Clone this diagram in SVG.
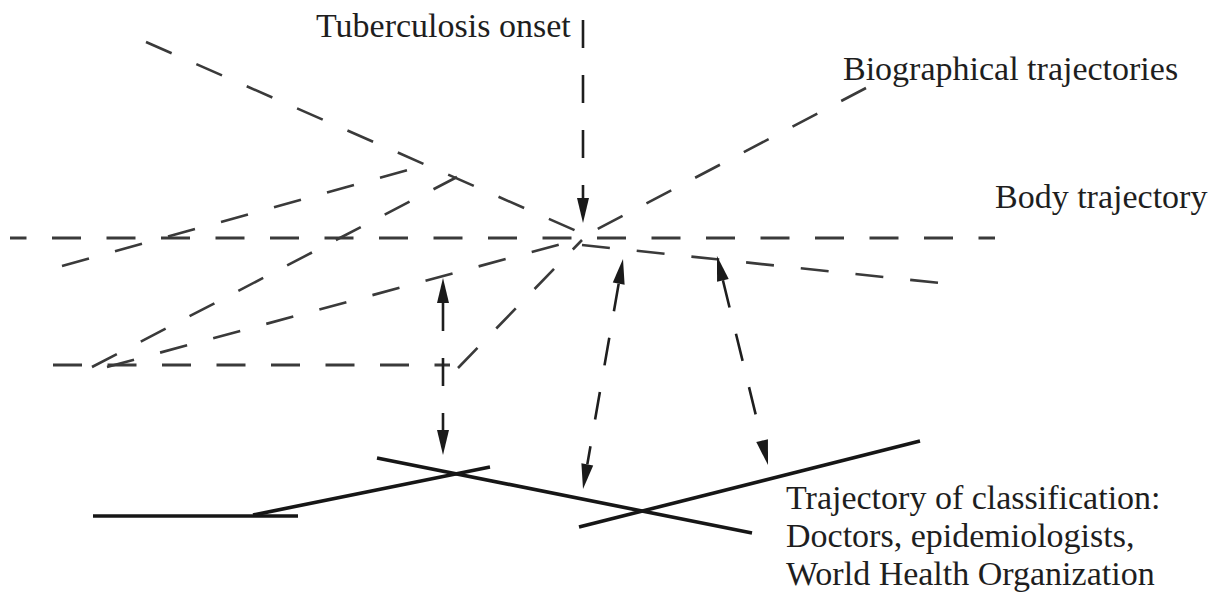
<svg xmlns="http://www.w3.org/2000/svg" width="1219" height="596" viewBox="0 0 1219 596">
  <style>
    .lbl { font-family: "Liberation Serif", "Times New Roman", serif; font-size: 34px; fill: #1e1e1e; }
    .dash { fill: none; stroke: #3a3a3a; stroke-width: 2.6; stroke-dasharray: 28 27; }
    .hdash { fill: none; stroke: #3a3a3a; stroke-width: 3; stroke-dasharray: 29 25.5; }
    .arr { fill: none; stroke: #1e1e1e; stroke-width: 2.6; stroke-dasharray: 28 27; }
    .solid { fill: none; stroke: #161616; stroke-width: 3.6; }
  </style>
  <defs>
    <marker id="ah" markerUnits="userSpaceOnUse" markerWidth="26" markerHeight="12" refX="0" refY="6" orient="auto-start-reverse" overflow="visible">
      <path d="M0,0 L25,6 L0,12 Z" fill="#1a1a1a"/>
    </marker>
  </defs>

  <g id="label-tuberculosis-onset">
    <text class="lbl" x="316" y="37">Tuberculosis onset</text>
  </g>
  <g id="label-biographical-trajectories">
    <text class="lbl" x="843" y="80">Biographical trajectories</text>
  </g>
  <g id="label-body-trajectory">
    <text class="lbl" x="995" y="208">Body trajectory</text>
  </g>
  <g id="label-classification">
    <text class="lbl" x="786" y="509">Trajectory of classification:</text>
    <text class="lbl" x="786" y="547">Doctors, epidemiologists,</text>
    <text class="lbl" x="786" y="585">World Health Organization</text>
  </g>

  <g id="body-trajectory">
    <line class="hdash" x1="10" y1="238" x2="995" y2="238" stroke-dashoffset="12.5"/>
  </g>

  <g id="biographical-trajectories">
    <line class="dash" x1="146" y1="42" x2="581" y2="233"/>
    <line class="dash" x1="866" y1="88" x2="590" y2="233"/>
    <line class="dash" x1="582" y1="245" x2="940" y2="283"/>
    <line class="dash" x1="62" y1="266" x2="426" y2="165"/>
    <line class="dash" x1="92" y1="367" x2="457" y2="177"/>
    <line class="dash" x1="107" y1="367" x2="576" y2="240"/>
    <line class="dash" x1="458" y1="368" x2="582" y2="240"/>
    <line class="hdash" x1="53" y1="365" x2="450" y2="365"/>
  </g>

  <g id="trajectory-of-classification">
    <line class="solid" x1="93" y1="516" x2="298" y2="516" stroke-width="5.5"/>
    <line class="solid" x1="253" y1="515" x2="490" y2="467"/>
    <line class="solid" x1="377" y1="458" x2="752" y2="533"/>
    <line class="solid" x1="579" y1="527" x2="920" y2="441"/>
  </g>

  <g id="connectors">
    <line class="arr" x1="583" y1="20" x2="583" y2="198" stroke-dasharray="30 26" marker-end="url(#ah)"/>
    <line class="arr" x1="443" y1="303" x2="443" y2="430" marker-start="url(#ah)" marker-end="url(#ah)"/>
    <line class="arr" x1="618.7" y1="283.6" x2="587.3" y2="464.4" marker-start="url(#ah)" marker-end="url(#ah)"/>
    <line class="arr" x1="722.9" y1="280.3" x2="762.1" y2="440.7" marker-start="url(#ah)" marker-end="url(#ah)"/>
  </g>
</svg>
